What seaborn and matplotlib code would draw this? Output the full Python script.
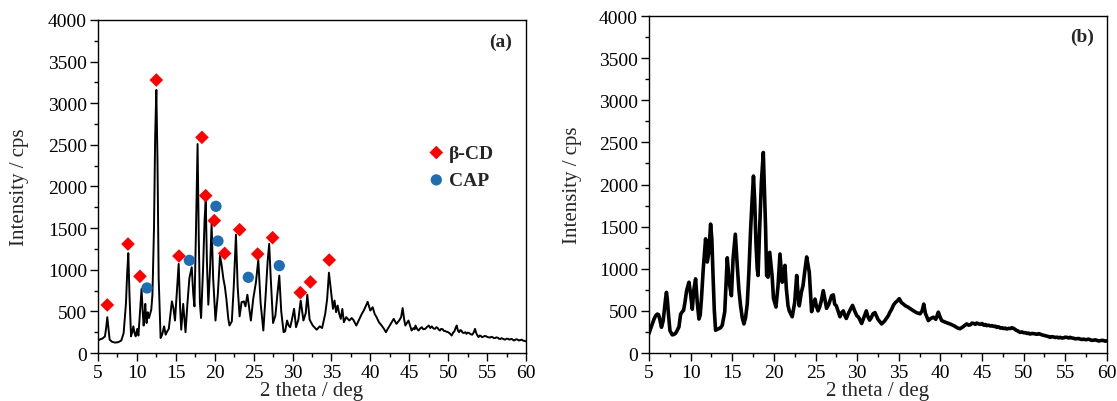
import numpy as np
import pandas as pd
import matplotlib
matplotlib.use("Agg")
import matplotlib.pyplot as plt
from matplotlib.ticker import MultipleLocator
import seaborn as sns

# ---- XRD pattern (a): beta-cyclodextrin / CAP physical mixture ----
two_theta_a = [
    5.0, 5.3, 5.6, 5.9, 6.05, 6.2, 6.35, 6.5, 6.8, 7.2,
    7.6, 8.0, 8.3, 8.6, 8.75, 8.9, 9.05, 9.25, 9.4, 9.55,
    9.7, 9.85, 10.05, 10.2, 10.45, 10.6, 10.75, 10.87, 11.0, 11.08,
    11.18, 11.25, 11.4, 11.55, 11.7, 11.85, 12.0, 12.2, 12.35, 12.5,
    12.65, 12.8, 13.05, 13.25, 13.5, 13.7, 13.9, 14.1, 14.3, 14.5,
    14.7, 14.9, 15.15, 15.37, 15.55, 15.7, 15.95, 16.25, 16.5, 16.75,
    17.05, 17.25, 17.4, 17.6, 17.8, 17.95, 18.1, 18.25, 18.5, 18.7,
    18.85, 19.0, 19.18, 19.4, 19.6, 19.8, 20.1, 20.4, 20.68, 20.9,
    21.1, 21.3, 21.5, 21.75, 21.9, 22.2, 22.45, 22.73, 22.95, 23.2,
    23.45, 23.75, 23.95, 24.2, 24.4, 24.65, 24.95, 25.3, 25.6, 25.9,
    26.25, 26.55, 26.8, 27.0, 27.2, 27.5, 27.8, 28.05, 28.3, 28.55,
    28.85, 29.05, 29.3, 29.5, 29.7, 29.9, 30.2, 30.45, 30.75, 31.05,
    31.4, 31.7, 31.9, 32.2, 32.6, 33.1, 33.5, 33.8, 34.2, 34.45,
    34.68, 34.85, 35.0, 35.2, 35.4, 35.6, 35.8, 36.0, 36.2, 36.4,
    36.6, 36.9, 37.3, 37.6, 37.8, 38.2, 38.6, 38.9, 39.15, 39.4,
    39.65, 40.0, 40.3, 40.55, 40.8, 41.1, 41.45, 41.75, 42.0, 42.3,
    42.5, 42.75, 43.0, 43.35, 43.7, 43.95, 44.15, 44.35, 44.5, 44.9,
    45.3, 45.45, 45.55, 45.7, 45.8, 46.0, 46.2, 46.4, 46.6, 46.8,
    47.05, 47.25, 47.5, 47.7, 47.9, 48.1, 48.3, 48.5, 48.65, 48.8,
    48.95, 49.1, 49.3, 49.45, 49.6, 49.8, 50.0, 50.2, 50.45, 50.6,
    50.8, 50.95, 51.1, 51.25, 51.4, 51.55, 51.7, 51.85, 52.0, 52.2,
    52.35, 52.5, 52.7, 52.9, 53.1, 53.3, 53.45, 53.6, 53.7, 53.9,
    54.05, 54.2, 54.35, 54.5, 54.7, 54.9, 55.1, 55.4, 55.55, 55.7,
    55.85, 56.0, 56.2, 56.4, 56.55, 56.7, 56.85, 57.0, 57.15, 57.3,
    57.5, 57.7, 57.85, 58.0, 58.15, 58.3, 58.45, 58.6, 58.75, 58.9,
    59.1, 59.25, 59.45, 59.6, 59.8, 60.0,
]
intensity_a = [
    150, 165, 175, 200, 300, 430, 290, 160, 135, 125,
    130, 150, 240, 600, 950, 1200, 700, 200, 250, 320,
    240, 200, 290, 210, 560, 770, 500, 330, 480, 590,
    420, 360, 490, 420, 470, 520, 700, 1500, 2600, 3160,
    2300, 900, 180, 220, 320, 220, 260, 290, 450, 620,
    540, 390, 760, 1070, 560, 280, 590, 250, 600, 900,
    1030, 700, 560, 1500, 2510, 1400, 600, 420, 1000, 1600,
    1830, 1100, 580, 1000, 1550, 900, 390, 700, 1170, 1050,
    900, 800, 650, 410, 330, 380, 800, 1420, 800, 440,
    610, 620, 560, 700, 560, 390, 650, 850, 1120, 600,
    270, 700, 1100, 1310, 900, 360, 450, 700, 930, 500,
    250, 260, 390, 330, 310, 390, 530, 310, 400, 630,
    390, 480, 700, 400, 330, 280, 320, 300, 470, 650,
    965, 820, 690, 530, 630, 490, 570, 470, 410, 530,
    370, 430, 390, 420, 400, 330, 410, 470, 510, 560,
    615, 510, 550, 470, 430, 370, 330, 290, 250, 300,
    330, 370, 410, 350, 390, 430, 540, 400, 330, 390,
    270, 290, 300, 285, 330, 290, 270, 295, 310, 285,
    290, 310, 330, 300, 320, 295, 290, 310, 300, 280,
    270, 290, 285, 265, 265, 255, 250, 235, 210, 240,
    260, 300, 330, 270, 250, 275, 270, 245, 240, 250,
    230, 245, 240, 225, 220, 250, 290, 240, 220, 190,
    210, 205, 190, 195, 205, 200, 190, 185, 195, 190,
    180, 178, 188, 182, 170, 168, 178, 172, 165, 160,
    172, 170, 160, 165, 170, 160, 150, 158, 165, 162,
    150, 155, 160, 150, 145, 140,
]

# reflections assigned to beta-CD and to CAP
bcd_theta = [6.2, 8.86, 10.4, 12.5, 15.41, 18.36, 18.84, 19.95, 21.28,
             23.2, 25.52, 27.44, 31.0, 32.3, 34.72]
bcd_level = [577, 1309, 921, 3279, 1165, 2590, 1890, 1590, 1197,
             1481, 1189, 1385, 725, 853, 1117]
cap_theta = [11.3, 16.74, 20.16, 20.42, 24.32, 28.3]
cap_level = [781, 1113, 1762, 1345, 909, 1049]

# ---- XRD pattern (b): inclusion complex ----
two_theta_b = [
    5.0, 5.2, 5.4, 5.6, 5.8, 6.0, 6.15, 6.3, 6.5, 6.7,
    6.85, 7.0, 7.1, 7.2, 7.35, 7.52, 7.8, 8.0, 8.2, 8.4,
    8.6, 8.8, 9.0, 9.15, 9.32, 9.52, 9.8, 10.0, 10.2, 10.4,
    10.6, 10.8, 11.0, 11.15, 11.3, 11.52, 11.8, 12.0, 12.2, 12.4,
    12.55, 12.7, 12.85, 13.0, 13.2, 13.4, 13.6, 13.8, 14.1, 14.25,
    14.4, 14.55, 14.7, 14.9, 15.1, 15.37, 15.6, 15.8, 16.0, 16.2,
    16.4, 16.6, 16.8, 17.0, 17.2, 17.35, 17.55, 17.7, 17.85, 18.0,
    18.1, 18.3, 18.5, 18.73, 18.85, 19.0, 19.13, 19.3, 19.5, 19.65,
    19.8, 19.95, 20.25, 20.5, 20.73, 21.0, 21.15, 21.33, 21.5, 21.7,
    21.85, 22.2, 22.5, 22.74, 22.9, 23.05, 23.3, 23.5, 23.75, 23.94,
    24.1, 24.25, 24.53, 24.7, 24.94, 25.1, 25.3, 25.5, 25.7, 25.93,
    26.1, 26.33, 26.6, 26.93, 27.14, 27.3, 27.5, 27.7, 27.94, 28.15,
    28.34, 28.5, 28.7, 28.95, 29.2, 29.45, 29.7, 29.95, 30.2, 30.54,
    30.8, 31.1, 31.3, 31.5, 31.7, 31.9, 32.14, 32.5, 32.94, 33.3,
    33.74, 33.94, 34.15, 34.34, 34.6, 34.85, 35.06, 35.3, 35.5, 35.8,
    36.1, 36.4, 36.7, 37.1, 37.55, 37.8, 38.0, 38.2, 38.55, 38.85,
    39.15, 39.45, 39.75, 39.95, 40.15, 40.6, 41.15, 41.7, 42.0, 42.35,
    42.7, 42.95, 43.15, 43.4, 43.6, 43.8, 44.0, 44.2, 44.35, 44.6,
    44.8, 45.0, 45.2, 45.4, 45.55, 45.8, 46.0, 46.2, 46.4, 46.6,
    46.76, 47.0, 47.2, 47.4, 47.6, 47.8, 47.96, 48.2, 48.4, 48.6,
    48.76, 48.95, 49.1, 49.3, 49.55, 49.8, 50.0, 50.2, 50.4, 50.6,
    50.75, 51.0, 51.2, 51.4, 51.6, 51.8, 51.95, 52.2, 52.4, 52.6,
    52.8, 53.0, 53.16, 53.4, 53.6, 53.8, 54.0, 54.2, 54.36, 54.6,
    54.8, 55.0, 55.2, 55.4, 55.56, 55.8, 56.0, 56.2, 56.4, 56.6,
    56.76, 57.0, 57.2, 57.4, 57.6, 57.8, 57.96, 58.2, 58.4, 58.6,
    58.8, 59.0, 59.16, 59.4, 59.6, 59.8, 60.0,
]
intensity_b = [
    230, 290, 345, 400, 443, 462, 455, 400, 305, 380,
    520, 650, 720, 640, 450, 265, 215, 220, 235, 270,
    310, 460, 490, 505, 600, 740, 840, 700, 520, 760,
    880, 600, 403, 450, 640, 1000, 1355, 1080, 1200, 1530,
    1350, 900, 500, 270, 280, 290, 300, 330, 490, 800,
    1130, 950, 800, 680, 1120, 1410, 1040, 750, 560, 420,
    345, 420, 580, 960, 1450, 1750, 2100, 1800, 1300, 1000,
    920, 1500, 2030, 2380, 2000, 1500, 920, 900, 1195, 1050,
    900, 650, 545, 800, 1175, 840, 900, 1040, 760, 560,
    500, 430, 600, 920, 700, 560, 720, 800, 1000, 1140,
    1050, 960, 490, 560, 640, 560, 500, 545, 620, 740,
    650, 530, 580, 680, 690, 580, 560, 500, 430, 480,
    500, 450, 410, 470, 520, 565, 500, 445, 420, 350,
    420, 500, 430, 390, 420, 465, 480, 400, 345, 380,
    443, 485, 520, 565, 600, 620, 645, 600, 585, 560,
    545, 525, 505, 480, 465, 500, 580, 470, 385, 410,
    425, 400, 485, 430, 385, 365, 345, 320, 300, 288,
    310, 330, 345, 330, 335, 355, 350, 340, 356, 345,
    340, 350, 330, 338, 325, 330, 320, 325, 315, 318,
    305, 310, 295, 300, 290, 295, 285, 292, 290, 300,
    293, 282, 270, 262, 245, 250, 240, 242, 232, 236,
    225, 232, 230, 226, 222, 230, 225, 215, 210, 205,
    200, 195, 186, 194, 190, 184, 188, 180, 186, 178,
    180, 188, 185, 178, 186, 178, 175, 168, 170, 172,
    166, 160, 165, 158, 160, 165, 158, 150, 152, 156,
    150, 142, 146, 150, 148, 140, 145,
]

x_ticks = [5, 10, 15, 20, 25, 30, 35, 40, 45, 50, 55, 60]
y_ticks = [0, 500, 1000, 1500, 2000, 2500, 3000, 3500, 4000]

sns.set_theme(style="ticks")
plt.rcParams["font.family"] = ["Liberation Serif", "DejaVu Serif"]

fig = plt.figure(figsize=(11.17, 4.02), dpi=100)
ax_a = fig.add_axes([0.0877, 0.1194, 0.3832, 0.8284])
ax_b = fig.add_axes([0.5810, 0.1194, 0.4100, 0.8383])

df_a = pd.DataFrame({"theta": two_theta_a, "counts": intensity_a})
df_b = pd.DataFrame({"theta": two_theta_b, "counts": intensity_b})

sns.lineplot(data=df_a, x="theta", y="counts", ax=ax_a, color="black",
             linewidth=1.4, sort=False, estimator=None)
sns.scatterplot(x=bcd_theta, y=bcd_level, ax=ax_a, marker="D", s=48,
                color="#ff0000", edgecolor="none", label="\u03b2-CD", zorder=3)
sns.scatterplot(x=cap_theta, y=cap_level, ax=ax_a, marker="o", s=66,
                color="#1f6db2", edgecolor="none", label="CAP", zorder=3)

sns.lineplot(data=df_b, x="theta", y="counts", ax=ax_b, color="black",
             linewidth=2.6, sort=False, estimator=None)

panels = (
    (ax_a, "(a)", (0.94, 0.935), -0.16),
    (ax_b, "(b)", (0.945, 0.94), -0.146),
)
for ax, tag, tag_xy, ylab_x in panels:
    ax.set_xlim(5, 60)
    ax.set_ylim(0, 4000)
    ax.set_xticks(x_ticks)
    ax.set_yticks(y_ticks)
    ax.xaxis.set_minor_locator(MultipleLocator(2.5))
    ax.yaxis.set_minor_locator(MultipleLocator(250))
    ax.tick_params(axis="both", which="major", direction="out", length=6,
                   width=1.0, labelsize=14, colors="black", pad=2)
    ax.tick_params(axis="both", which="minor", direction="out", length=3,
                   width=1.0, colors="black")
    ax.tick_params(top=False, right=False, which="both")
    for side in ("top", "right", "bottom", "left"):
        ax.spines[side].set_visible(True)
        ax.spines[side].set_color("black")
        ax.spines[side].set_linewidth(1.0)
    ax.set_xlabel("2 theta / deg", fontsize=15, labelpad=0)
    ax.set_ylabel("Intensity / cps", fontsize=15)
    ax.yaxis.set_label_coords(ylab_x, 0.5)
    ax.text(tag_xy[0], tag_xy[1], tag, transform=ax.transAxes, ha="center",
            va="center", fontsize=14, fontweight="bold")

ax_a.legend(loc="center left", bbox_to_anchor=(0.745, 0.56), frameon=False,
            prop={"weight": "bold", "size": 14}, handletextpad=0.05,
            labelspacing=0.5, borderaxespad=0, handlelength=1.2)

fig.savefig("out.png", dpi=100)
